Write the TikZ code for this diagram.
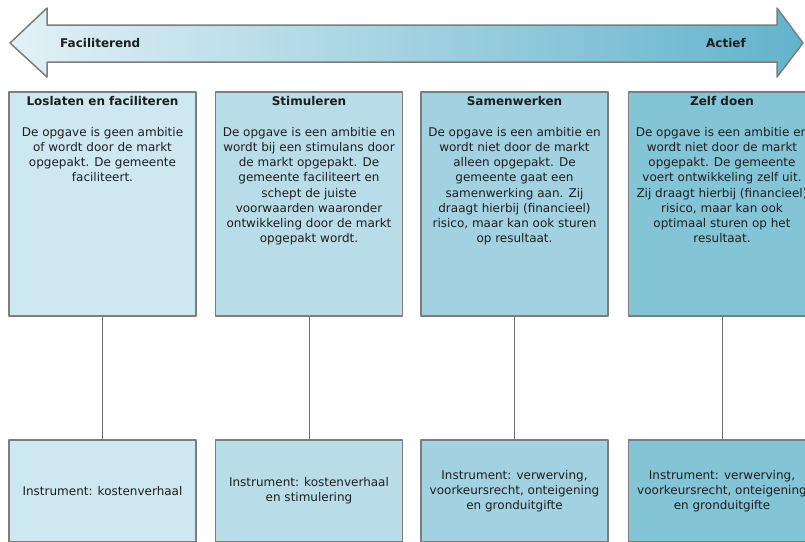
\documentclass[tikz,border=0pt]{standalone}
\usepackage{fontspec}
\setmainfont{DejaVu Sans}
\usetikzlibrary{positioning}
\definecolor{edgegray}{RGB}{125,125,125}
\definecolor{linkgray}{RGB}{110,110,110}
\definecolor{inkgray}{RGB}{30,30,30}
\definecolor{arrowleft}{RGB}{226,241,247}
\definecolor{arrowright}{RGB}{98,179,204}
\definecolor{fillA}{RGB}{205,232,241}
\definecolor{fillB}{RGB}{184,221,233}
\definecolor{fillC}{RGB}{162,210,226}
\definecolor{fillD}{RGB}{132,196,215}
\tikzset{
    txt/.style={
        font=\fontsize{12}{15.2}\selectfont, text=inkgray
    }
}

\begin{document}
\begin{tikzpicture}[x=1pt,y=-1pt, line cap=round, line join=round]

% box + text styles
\tikzset{
  topbox/.style={rectangle, draw=edgegray, line width=1.5pt, minimum width=187pt, minimum height=224pt, inner sep=0pt},
  botbox/.style={rectangle, draw=edgegray, line width=1.5pt, minimum width=187pt, minimum height=102pt, inner sep=0pt, align=center, txt},
  ttl/.style={font=\fontsize{12}{14}\selectfont\bfseries, text=inkgray, inner sep=0pt},
  body/.style={txt, align=center, inner sep=0pt},
  link/.style={draw=linkgray, line width=1pt},
  arrowlab/.style={font=\fontsize{12}{14}\selectfont\bfseries, text=inkgray, inner sep=0pt},
}

  \useasboundingbox (0,0) rectangle (805,541);
  \clip (0,0) rectangle (805,541);

  % double arrow
  \coordinate (Ltip) at (10,43);
  \coordinate (Rtip) at (803,43);
  \shade[left color=arrowleft, right color=arrowright, draw=edgegray, line width=1.5pt]
    (Ltip) -- (47,8) -- (47,25) -- (777,25) -- (777,8) -- (Rtip)
    -- (777,77) -- (777,62) -- (47,62) -- (47,77) -- cycle;
  \node[arrowlab, anchor=west] (fac) at (60,43) {Faciliterend};
  \node[arrowlab, anchor=east] (act) at (746,43) {Actief};

  % top boxes
  \node[topbox, fill=fillA] (los)   at (102.5,204) {};
  \node[topbox, fill=fillB] (stim)  at (309,204) {};
  \node[topbox, fill=fillC] (samen) at (514.5,204) {};
  \node[topbox, fill=fillD] (zelf)  at (722,204) {};

  % bottom boxes
  \node[botbox, fill=fillA] (losI)   at (102.5,491) {Instrument: kostenverhaal};
  \node[botbox, fill=fillB] (stimI)  at (309,491) {Instrument: kostenverhaal\\en stimulering};
  \node[botbox, fill=fillC] (samenI) at (514.5,491) {Instrument: verwerving,\\voorkeursrecht, onteigening\\en gronduitgifte};
  \node[botbox, fill=fillD] (zelfI)  at (722,491) {Instrument: verwerving,\\voorkeursrecht, onteigening\\en gronduitgifte};

  % titles
  \node[ttl, below=5pt of los.north]   (losT)   {Loslaten en faciliteren};
  \node[ttl, below=5pt of stim.north]  (stimT)  {Stimuleren};
  \node[ttl, below=5pt of samen.north] (samenT) {Samenwerken};
  \node[ttl, below=5pt of zelf.north]  (zelfT)  {Zelf doen};

  % descriptions
  \node[body, below=21pt of losT] (losB) {De opgave is geen ambitie\\of wordt door de markt\\opgepakt. De gemeente\\faciliteert.};
  \node[body, below=21pt of stimT] (stimB) {De opgave is een ambitie en\\wordt bij een stimulans door\\de markt opgepakt. De\\gemeente faciliteert en\\schept de juiste\\voorwaarden waaronder\\ontwikkeling door de markt\\opgepakt wordt.};
  \node[body, below=21pt of samenT] (samenB) {De opgave is een ambitie en\\wordt niet door de markt\\alleen opgepakt. De\\gemeente gaat een\\samenwerking aan. Zij\\draagt hierbij (financieel)\\risico, maar kan ook sturen\\op resultaat.};
  \node[body, below=21pt of zelfT] (zelfB) {De opgave is een ambitie en\\wordt niet door de markt\\opgepakt. De gemeente\\voert ontwikkeling zelf uit.\\Zij draagt hierbij (financieel)\\risico, maar kan ook\\optimaal sturen op het\\resultaat.};

  % connectors
  \draw[link] (los.south) -- (losI.north);
  \draw[link] (stim.south) -- (stimI.north);
  \draw[link] (samen.south) -- (samenI.north);
  \draw[link] (zelf.south) -- (zelfI.north);

\end{tikzpicture}
\end{document}
